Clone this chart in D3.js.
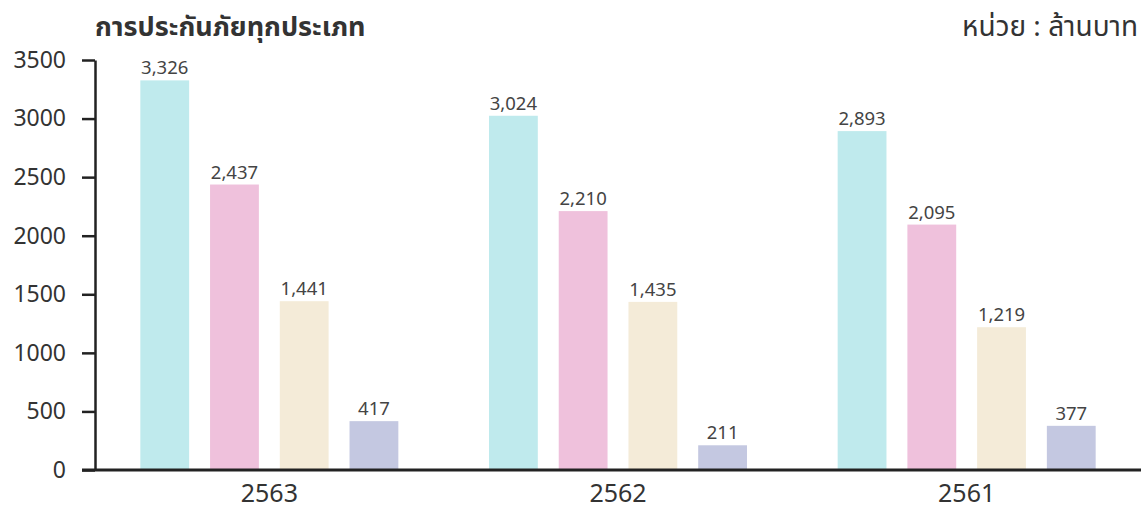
<!DOCTYPE html>
<html lang="th">
<head>
    <meta charset="UTF-8">
    <title>การประกันภัยทุกประเภท</title>
    <script src="https://cdn.jsdelivr.net/npm/d3@7/dist/d3.min.js"></script>
    <style>
        body { margin: 0; background: #fff; }
        svg { width: 1146px; height: 512px; display: block; }
        text { font-family: "Noto Sans", "Noto Sans Thai", "Open Sans", sans-serif; fill: #333; }
    </style>
</head>
<body>
    <svg></svg>

    <script>
        // data
        const years = ['2563', '2562', '2561'];
        const seriesKeys = ['s1', 's2', 's3', 's4'];
        const s1 = [3326, 3024, 2893];
        const s2 = [2437, 2210, 2095];
        const s3 = [1441, 1435, 1219];
        const s4 = [417, 211, 377];
        const yTicks = [0, 500, 1000, 1500, 2000, 2500, 3000, 3500];
        const colors = ['#bfeaed', '#efc1dc', '#f4ebd8', '#c4c8e1'];

        const rows = years.map((yr, i) => ({
            year: yr,
            values: [s1[i], s2[i], s3[i], s4[i]]
        }));

        const svg = d3.select('svg');
        const plotLeft = 95, plotRight = 1141, plotTop = 60, plotBottom = 470;

        const x0 = d3.scaleBand().domain(years).range([plotLeft, plotRight]).padding(0);
        const x1 = d3.scaleBand().domain(seriesKeys)
            .range([0, x0.bandwidth()])
            .paddingInner(0.3)
            .paddingOuter(0.65);
        const y = d3.scaleLinear().domain([0, 3500]).range([plotBottom, plotTop]);

        // bars
        const groups = svg.selectAll('g.year')
            .data(rows).enter().append('g')
            .classed('year', true)
            .attr('transform', d => `translate(${x0(d.year)},0)`);

        const bars = groups.selectAll('g.bar')
            .data(d => d.values.map((v, i) => ({ key: seriesKeys[i], value: v, i: i })))
            .enter().append('g')
            .classed('bar', true);

        bars.append('rect')
            .attr('x', d => x1(d.key))
            .attr('y', d => y(d.value))
            .attr('width', x1.bandwidth())
            .attr('height', d => plotBottom - y(d.value))
            .attr('fill', d => colors[d.i]);

        bars.append('text')
            .attr('x', d => x1(d.key) + x1.bandwidth() / 2)
            .attr('y', d => y(d.value) - 6)
            .attr('text-anchor', 'middle')
            .style('font-size', '18.5px')
            .style('fill', '#444')
            .text(d => d3.format(',')(d.value));

        // y axis
        const yAxis = svg.append('g')
            .attr('transform', `translate(${plotLeft},0)`)
            .call(d3.axisLeft(y).tickValues(yTicks).tickFormat(d3.format('d'))
                .tickSize(13).tickPadding(16).tickSizeOuter(0));
        yAxis.select('.domain').attr('stroke', '#222').attr('stroke-width', 2.5);
        yAxis.selectAll('.tick line').attr('stroke', '#222').attr('stroke-width', 2.5);
        yAxis.selectAll('.tick text')
            .style('font-size', '23px')
            .style('fill', '#333');

        // baseline / x axis
        const xAxis = svg.append('g')
            .attr('transform', `translate(0,${plotBottom})`)
            .call(d3.axisBottom(x0).tickSize(0).tickPadding(14));
        xAxis.select('.domain').remove();
        xAxis.selectAll('.tick text')
            .style('font-size', '25px')
            .style('fill', '#333');
        svg.append('line')
            .attr('x1', 82).attr('x2', plotRight)
            .attr('y1', plotBottom).attr('y2', plotBottom)
            .attr('stroke', '#222')
            .attr('stroke-width', 3);

        // title and unit
        svg.append('text')
            .attr('x', 95).attr('y', 36)
            .style('font-size', '27px')
            .style('font-weight', 'bold')
            .style('fill', '#333')
            .text('การประกันภัยทุกประเภท');

        svg.append('text')
            .attr('x', 1138).attr('y', 36)
            .attr('text-anchor', 'end')
            .style('font-size', '28px')
            .style('fill', '#333')
            .text('หน่วย : ล้านบาท');
    </script>
</body>
</html>
